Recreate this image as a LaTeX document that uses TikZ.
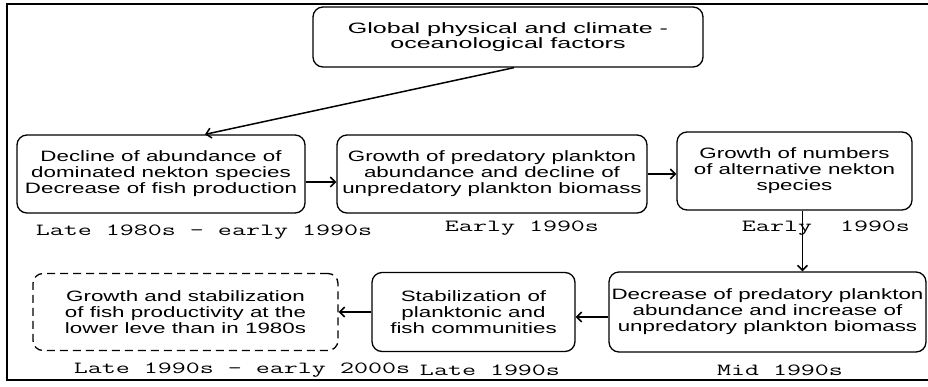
\documentclass[tikz,border=0pt]{standalone}
\usepackage{fontspec}
\setmainfont[FakeStretch=1.49]{Liberation Sans}
\newfontfamily\topfont[FakeStretch=1.67]{Liberation Sans}
\setmonofont[FakeStretch=1.6]{Latin Modern Mono}
\usetikzlibrary{positioning,calc,arrows.meta}

\begin{document}
\begin{tikzpicture}[x=1pt,y=-1pt,>={Straight Barb[length=5pt,width=10pt]},
                    box/.style={draw,line width=1.3pt,rounded corners=10pt,align=center,
                                inner sep=0pt,font=\fontsize{15}{16}\selectfont},
                    period/.style={inner sep=0pt,font=\ttfamily\fontsize{17}{17}\selectfont},
                    link/.style={->,line width=1.5pt}]
            \useasboundingbox (0,0) rectangle (928,386);
            %Frame
                \draw[line width=1.6pt] (930,4) -- (7,4) -- (7,380) -- (930,380);

            %Nodes
                \node[box,minimum width=390pt,minimum height=60pt,font=\topfont\fontsize{15}{15.5}\selectfont] (top) at (508,37)
                    {Global physical and climate -\\oceanological factors};
                \node[box,minimum width=288pt,minimum height=78pt] (b1) at (161,174)
                    {Decline of abundance of\\dominated nekton species\\Decrease of fish production};
                \node[box,minimum width=310pt,minimum height=78pt] (b2) at (492,174)
                    {Growth of predatory plankton\\abundance and decline of\\unpredatory plankton biomass};
                \node[box,minimum width=235pt,minimum height=78pt] (b3) at (794.5,171)
                    {Growth of numbers\\of alternative nekton\\species};
                \node[box,minimum width=317pt,minimum height=80pt] (b4) at (767.5,312)
                    {Decrease of predatory plankton\\abundance and increase of\\unpredatory plankton biomass};
                \node[box,minimum width=203pt,minimum height=79pt] (b5) at (473.5,312)
                    {Stabilization of\\planktonic and\\fish communities};
                \node[box,dash pattern=on 8pt off 5pt,minimum width=305pt,minimum height=77pt] (b6) at (185.5,312)
                    {Growth and stabilization\\of fish productivity at the\\lower leve than in 1980s};

            %Periods
                \node[period] (p1) at (204,232) {Late 1980s — early 1990s};
                \node[period] (p2) at (522,228) {Early 1990s};
                \node[period] (p3) at (826,228) {Early\ \ 1990s};
                \node[period] (p4) at (780,370) {Mid 1990s};
                \node[period] (p5) at (242,370) {Late 1990s — early 2000s};
                \node[period] (p6) at (490,370) {Late 1990s};

            %Lines
                \draw[link] ([xshift=6pt]top.south) -- ([xshift=44pt]b1.north);
                \draw[link] ([yshift=-8pt]b1.east) -- ([yshift=-8pt]b2.west);
                \draw[link] (b2.east) -- (b2.east -| b3.west);
                \draw[link] ([xshift=8pt]b3.south) -- ([xshift=35pt]b4.north);
                \draw[link] ([yshift=-5pt]b4.west) -- ([yshift=-5pt]b5.east);
                \draw[link] (b5.west) -- (b6.east);
\end{tikzpicture}
\end{document}
